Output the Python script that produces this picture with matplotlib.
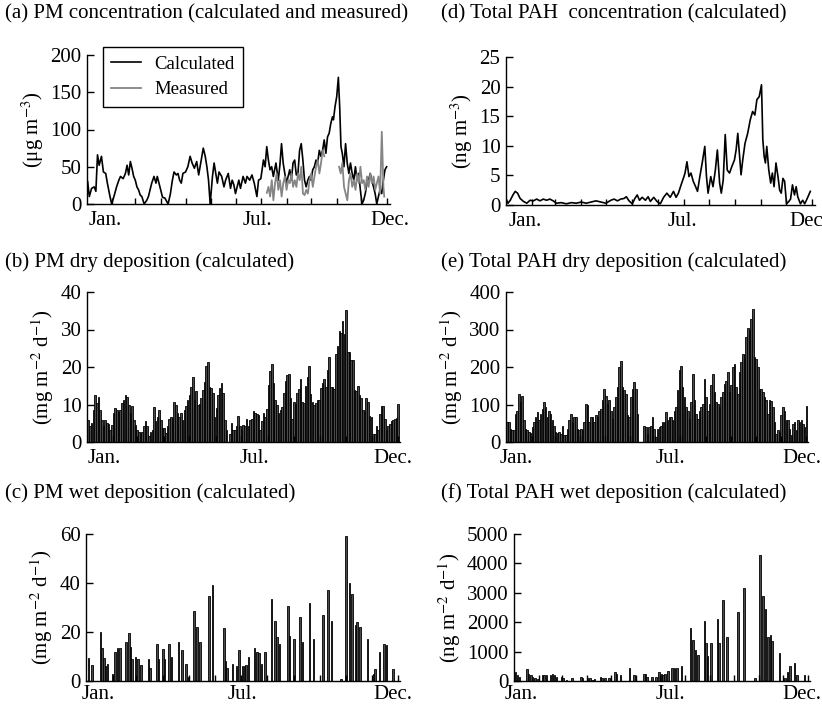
import numpy as np
import matplotlib
matplotlib.use("Agg")
import matplotlib.pyplot as plt

plt.rcParams['font.family'] = ['Liberation Serif', 'DejaVu Serif']
plt.rcParams['mathtext.fontset'] = 'stix'

# ---- (a) PM concentration, calculated and measured (ug m-3) ----
pm_calc_day = [0.8, 2.8, 5.6, 8.8, 10.8, 12.8, 14.8, 17.6, 20, 22.8, 24.8, 28, 30, 32.8, 36, 38.8,
               40.8, 44, 46.8, 48.8, 50.8, 52.8, 54.8, 56.8, 58.8, 60.8, 62.8, 64.8, 66.8, 69.6,
               72.8, 74.8, 76.8, 78.8, 81.6, 84, 85.6, 88.8, 92, 94.8, 98.8, 101.6, 104, 106,
               108.8, 110.8, 112.8, 114.8, 116.8, 120, 122.8, 125.6, 128, 130.8, 133.6, 136,
               138.8, 141.6, 144, 146, 148, 150, 152.8, 154.8, 156.8, 158.8, 160.8, 164, 166.8,
               168.8, 172, 174.8, 176.8, 178.8, 180.8, 184.9, 186.9, 190.1, 192.9, 194.9, 198.1,
               200.9, 203.7, 206.9, 208.9, 211.7, 214.9, 216.9, 218.9, 220.9, 222.9, 224.9,
               226.9, 230.1, 232.9, 234.9, 236.9, 238.9, 240.9, 242.9, 244.9, 246.9, 248.9,
               250.9, 252.9, 254.9, 256.9, 258.9, 260.9, 262.9, 264.9, 266.9, 268.9, 270.9,
               272.9, 274.9, 276.9, 278.9, 280.9, 282.9, 284.9, 286.9, 288.9, 290.9, 292.9,
               294.9, 296.9, 298.9, 300.1, 302.1, 304.1, 306.1, 307.7, 309.3, 310.9, 312.9,
               314.9, 316.9, 318.9, 320.9, 322.9, 324.9, 326.9, 328.9, 330.9, 332.9, 334.9,
               336.9, 338.9, 340.9, 342.9, 344.9, 346.9, 348.9, 350.9, 352.9, 354.9, 356.9,
               358.9, 360.9, 362.9, 364.9]
pm_calc = [30, 10, 21, 23, 17, 66, 52, 64, 43, 41, 28, 10, 0, 10, 23, 32,
           37, 34, 41, 52, 39, 57, 48, 37, 32, 23, 19, 12, 10, 0,
           5, 10, 19, 28, 37, 28, 37, 23, 9, 8, 0, 14, 32, 43,
           39, 41, 32, 28, 41, 43, 50, 64, 55, 48, 57, 39,
           57, 75, 64, 50, 32, 0, 37, 55, 41, 28, 43, 37, 23,
           32, 41, 21, 32, 26, 14, 32, 21, 37, 28, 37, 32,
           39, 28, 10, 32, 34, 59, 50, 77, 59, 46, 50,
           37, 55, 32, 52, 81, 55, 41, 28, 37, 46, 32,
           55, 59, 39, 41, 72, 81, 59, 32, 23, 32, 37,
           32, 46, 50, 59, 55, 72, 64, 72, 86, 68, 90,
           95, 108, 117, 113, 131, 144, 170, 131, 77, 68, 50,
           81, 55, 41, 55, 41, 32, 50, 32, 41, 19, 0,
           5, 14, 28, 32, 41, 32, 23, 14, 0, 10, 19,
           14, 32, 46, 50]

pm_meas_day = [219, 221, 223, 225, 227, 229, 231, 233, 235, 237, 239, 241, 243, 245, 247, 249,
               251, 253, 255, 257, 259, 261, 263, 265, 267, 269, 271, 273, 275, 277, 279, 281,
               283, 285, 287, 289, 291, 307, 309, 311, 313, 315, 317, 319, 321, 323, 325, 327,
               329, 331, 333, 335, 337, 339, 341, 343, 345, 347, 349, 351, 353, 355, 357, 359,
               361, 362]
pm_meas = [15, 23, 10, 32, 5, 28, 41, 19, 32, 10, 28, 37, 19, 32, 28, 41,
           23, 32, 23, 41, 32, 50, 14, 12, 19, 14, 32, 41, 23, 37, 50, 59,
           41, 55, 72, 64, np.nan, 50, 41, 55, 23, 14, 5, 32, 41, 23, 32, 19,
           41, 28, 50, 28, 32, 19, 37, 23, 41, 28, 37, 19, 28, 37, 14, 97,
           23, 10]

# ---- (d) total PAH concentration (ng m-3) ----
pah_conc_day = [0, 2.4, 5.1, 8.3, 11, 13.8, 16.9, 20.9, 24.8, 28.7, 32.7, 36.6, 40.6, 44.5,
                48.4, 52.4, 56.3, 60.2, 66.1, 72, 78, 83.9, 89.8, 95.7, 101.6, 107.5, 113.4,
                119.3, 125.2, 129.1, 133.1, 137, 140.9, 143.7, 146.9, 150.8, 153.9, 156.7,
                159.4, 162.6, 166.5, 169.7, 172.4, 176.4, 180.3, 184.3, 188.2, 192.1, 196.1,
                200, 203.1, 205.9, 209.1, 211.8, 213.8, 216.1, 218.5, 220.9, 223.6, 226.4,
                228.7, 231.5, 234.3, 237.4, 239.4, 241.3, 244.5, 247.2, 250, 252.4, 255.1,
                257.1, 259.4, 261.8, 264.2, 266.9, 269.7, 272.8, 274.8, 276.8, 278.7, 280.7,
                282.7, 285.4, 288.6, 291.7, 294.5, 297.2, 299.6, 302.4, 305.1, 306.7, 308.3,
                309.8, 311.4, 313.8, 316.1, 318.1, 320.1, 322.4, 324.8, 326.8, 328.7, 330.7,
                332.7, 335, 337.8, 339.8, 342.1, 344.5, 346.5, 348.4, 351.6, 354.3, 356.7,
                359.4, 363.4]
pah_conc = [1.1, 0.3, 0.8, 1.7, 2.3, 2.0, 1.1, 0.6, 0.3, 0.8, 0.7, 1.0, 0.7, 1.0,
            0.8, 1.0, 0.7, 0.3, 0.4, 0.2, 0.4, 0.3, 0.5, 0.3, 0.5, 0.7, 0.5,
            0.3, 0.8, 1.0, 0.7, 1.0, 1.1, 1.4, 0.7, 0.2, 1.1, 1.7,
            0.8, 1.3, 0.8, 1.4, 0.6, 1.3, 0.6, 0.2, 1.3, 2.0, 1.3,
            2.3, 1.3, 2.0, 3.4, 4.5, 5.4, 7.3, 4.8, 5.4, 4.0, 3.1,
            2.3, 4.8, 7.1, 9.9, 4.8, 2.0, 4.8, 3.1, 5.9, 9.3, 3.7,
            2.0, 4.2, 11.9, 5.9, 5.4, 6.5, 7.6, 9.3, 12.1, 8.7, 5.1,
            7.6, 10.4, 12.1, 14.4, 15.8, 15.2, 17.8, 18.3, 20.3, 11.0, 8.2,
            7.1, 9.9, 5.9, 3.7, 5.4, 3.1, 7.1, 4.8, 2.5, 2.0, 4.5,
            4.0, 0.2, 0.6, 1.0, 3.4, 1.7, 3.1, 1.4, 0.2, 0.8, 0.2,
            1.0, 2.3]

# ---- (b) PM dry deposition (mg m-2 d-1), roughly every 2 days ----
pm_dry = [5.8, 4.2, 5.0, 8.6, 12.6, 10.4, 12.1, 8.6, 5.9, 4.2, 5.9, 5.0, 4.9, 3.3, 4.6,
          7.7, 9.0, 8.6, 8.1, 8.6, 10.4, 11.2, 12.6, 12.1, 9.9, 7.7, 9.5, 5.9, 4.6, 3.3,
          2.8, 2.4, 2.8, 4.2, 5.5, 4.2, 1.5, 2.8, 3.3, 9.3, 5.5, 6.8, 8.6, 5.9, 3.7,
          3.7, 2.4, 4.2, 6.1, 6.8, 6.4, 10.8, 9.9, 7.7, 6.8, 7.7, 5.9, 8.6, 9.5, 11.2,
          12.6, 14.8, 17.4, 11.2, 13.5, 9.9, 10.2, 11.7, 13.9, 16.1, 20.3, 21.4, 14.8, 14.3, 13.0,
          6.8, 9.0, 12.6, 14.3, 15.8, 13.0, 5.9, 3.3, 0, 2.2, 5.0, 3.1,
          3.3, 4.2, 7.0, 4.2, 3.3, 4.6, 4.4, 6.1, 4.2, 5.9, 6.1, 8.4, 7.7, 7.5, 7.3,
          3.3, 5.5, 7.7, 6.8, 8.8, 15.2, 19.0, 20.8, 15.7, 11.2, 9.9, 7.7, 8.6, 9.3, 13.0,
          16.4, 17.9, 18.1, 11.7, 6.1, 10.8, 10.2, 13.0, 14.2, 16.7, 10.8, 10.5, 15.0, 17.4, 20.3,
          12.7, 10.8, 9.9, 10.4, 11.2, 11.2, 14.3, 15.8, 16.7, 14.6, 19.2, 22.6, 14.6, 14.8, 14.1,
          23.5, 25.7, 29.6, 29.1, 32.2, 28.9, 35.3, 24.1, 24.1, 21.9, 21.9, 13.9, 13.7, 15.0, 12.6,
          11.7, 8.6, 8.4, 11.7, 10.8, 7.0, 6.6, 2.1, 2.2, 4.2, 3.3, 7.5, 9.6, 9.6, 6.1,
          3.3, 4.2, 4.9, 5.5, 5.9, 6.1, 6.4, 10.1]

# ---- (e) total PAH dry deposition, roughly every 2 days ----
pah_dry = [53, 53, 36, 33, 33, 76, 84, 127, 107, 124, 58, 36, 31, 27, 24, 40, 53, 67, 80, 60,
           76, 87, 107, 93, 67, 83, 76, 58, 44, 27, 24, 27, 22, 44, 18, 18, 34, 58, 76, 53,
           67, 67, 36, 31, 36, 31, 53, 102, 100, 53, 67, 67, 53, 71, 67, 84, 89, 111, 142, 124,
           102, 111, 84, 62, 93, 120, 147, 200, 216, 147, 138, 129, 71, 67, 120, 142, 160, 142, 76, 0,
           0, 0, 44, 40, 22, 40, 44, 67, 36, 13, 36, 40, 44, 53, 53, 80, 58, 67, 68, 58,
           84, 93, 138, 191, 202, 147, 120, 93, 84, 62, 107, 182, 111, 76, 62, 84, 93, 102, 169, 120,
           84, 102, 151, 182, 133, 107, 102, 93, 120, 133, 155, 164, 187, 133, 151, 200, 209, 147, 129, 187,
           213, 236, 231, 280, 305, 298, 329, 356, 227, 222, 200, 142, 142, 133, 120, 111, 76, 111, 109, 93,
           53, 22, 33, 27, 71, 93, 84, 58, 58, 36, 18, 49, 53, 31, 58, 53, 58, 49, 40, 95]

# ---- (c) PM wet deposition (mg m-2 d-1), rain days only ----
pm_wet_day = [3, 7, 17, 19, 21, 23, 25, 31, 34, 37, 40, 47, 50, 52, 54, 58, 61, 64, 73, 75,
              83, 85, 90, 92, 97, 100, 108, 112, 117, 120, 126, 130, 133, 144, 148, 161, 163,
              165, 171, 176, 179, 183, 185, 187, 190, 197, 200, 202, 205, 209, 217, 221, 223,
              226, 236, 238, 243, 250, 253, 261, 266, 277, 283, 287, 298, 304, 308, 311, 315,
              317, 320, 329, 336, 338, 343, 348, 351, 359]
pm_wet = [9.5, 6.5, 20, 13.5, 9.5, 6, 7, 3, 12, 13.5, 13.5, 16, 19.5, 14, 9, 10, 9, 6.5, 9, 5.5,
          15, 9, 13, 9, 15, 10, 16, 12.5, 7, 1.5, 28.5, 22, 16, 34.5, 39, 21.5, 8,
          5.5, 7, 6, 12.5, 6, 6, 6.5, 10, 13.5, 12, 11.5, 7, 12, 33.5, 24.5, 18,
          15, 30.5, 18.5, 17, 26, 16, 32, 17, 27, 37, 24.5, 1, 59, 40, 35.5, 23,
          24, 22, 17, 3, 5, 12, 15, 14.5, 5]

# ---- (f) total PAH wet deposition (ng m-2 d-1) ----
pah_wet_day = [2, 4, 7, 16, 18, 21, 23, 26, 30, 35, 37, 40, 45, 48, 50, 53, 59, 61, 65, 72,
               83, 85, 91, 94, 98, 100, 107, 109, 113, 118, 125, 127, 132, 143, 149, 161, 163,
               165, 171, 176, 180, 183, 185, 187, 191, 196, 199, 202, 208, 219, 222, 225, 228,
               236, 238, 240, 244, 252, 254, 259, 264, 278, 285, 299, 305, 309, 312, 315, 318,
               320, 329, 336, 339, 342, 348, 351, 360]
pah_wet = [300, 200, 150, 400, 250, 200, 120, 100, 60, 200, 200, 200, 200, 250, 200, 120, 150, 100, 50, 100,
           150, 100, 100, 100, 50, 80, 150, 100, 100, 100, 300, 250, 200, 450, 200, 250, 250,
           150, 150, 150, 300, 250, 200, 250, 350, 450, 450, 450, 500, 1800, 1400, 1050, 900,
           2050, 1300, 850, 1300, 2100, 1300, 2750, 1500, 2350, 3150, 100, 4300, 2900, 2450, 1500, 1550,
           1350, 950, 100, 300, 500, 600, 200, 200]

month_ends = [31, 59, 90, 120, 151, 181, 212, 243, 273, 304, 334, 365]
month_names = ["Jan.", "Jul.", "Dec."]

W, H = 822, 708
fig = plt.figure(figsize=(W / 100, H / 100), dpi=100)


def make_ax(left, right, top, bottom):
    return fig.add_axes([left / W, 1 - bottom / H, (right - left) / W, (bottom - top) / H])


def style(ax, ymax, yticks, ylabel, label_days, xmax=369, xpad=5):
    ax.set_xlim(0, xmax)
    ax.set_ylim(0, ymax)
    ax.spines['top'].set_visible(False)
    ax.spines['right'].set_visible(False)
    for s in ('left', 'bottom'):
        ax.spines[s].set_linewidth(1.0)
    ax.set_yticks(yticks)
    ax.tick_params(axis='y', direction='in', length=5, width=1, labelsize=15, pad=4)
    ax.set_xticks(label_days)
    ax.set_xticklabels(month_names)
    ax.tick_params(axis='x', which='major', length=0, labelsize=15, pad=xpad)
    ax.set_xticks(month_ends, minor=True)
    ax.tick_params(axis='x', which='minor', direction='in', length=4, width=1)
    ax.set_ylabel(ylabel, fontsize=15, labelpad=3)


def title(x, y, s):
    fig.text(x / W, 1 - y / H, s, fontsize=15, va='center', ha='left')


bar_face = '#4a4a4a'

# (a)
ax = make_ax(87, 390, 55, 204)
ax.plot(pm_calc_day, pm_calc, color='black', lw=1.2, label='Calculated')
ax.plot(pm_meas_day, pm_meas, color='#858585', lw=1.3, label='Measured')
style(ax, 200, [0, 50, 100, 150, 200], '(μg m$^{-3}$)', [22, 207, 369])
leg = ax.legend(loc='upper left', bbox_to_anchor=(0.053, 1.054), borderaxespad=0,
                fontsize=13.5, frameon=True, fancybox=False, framealpha=1,
                edgecolor='black', handlelength=1.6, handletextpad=0.7,
                labelspacing=0.45, borderpad=0.45)
leg.get_frame().set_linewidth(1.0)
title(5, 14, '(a) PM concentration (calculated and measured)')

# (d)
ax = make_ax(506, 815, 57, 205)
ax.plot(pah_conc_day, pah_conc, color='black', lw=1.2)
style(ax, 25, [0, 5, 10, 15, 20, 25], '(ng m$^{-3}$)', [23, 211, 362])
title(441, 14, '(d) Total PAH  concentration (calculated)')

# (b)
ax = make_ax(87, 400, 292, 442)
xb = np.linspace(1.5, 365, len(pm_dry))
ax.bar(xb, pm_dry, width=(xb[1] - xb[0]) * 0.95, color=bar_face, edgecolor='black', linewidth=0.6)
style(ax, 40, [0, 10, 20, 30, 40], '(mg m$^{-2}$ d$^{-1}$)', [20, 196, 359], xmax=367)
title(5, 262, '(b) PM dry deposition (calculated)')

# (e)
ax = make_ax(506, 808, 292, 442)
xe = np.linspace(1.5, 365, len(pah_dry))
ax.bar(xe, pah_dry, width=(xe[1] - xe[0]) * 0.95, color=bar_face, edgecolor='black', linewidth=0.6)
style(ax, 400, [0, 100, 200, 300, 400], '(mg m$^{-2}$ d$^{-1}$)', [12, 200, 359], xmax=367)
title(441, 262, '(e) Total PAH dry deposition (calculated)')

# (c)
ax = make_ax(86, 400, 534, 681)
ax.bar(pm_wet_day, pm_wet, width=1.8, color=bar_face, edgecolor='black', linewidth=0.6)
style(ax, 60, [0, 20, 40, 60], '(mg m$^{-2}$ d$^{-1}$)', [14, 183, 359], xmax=367, xpad=3)
title(5, 493, '(c) PM wet deposition (calculated)')

# (f)
ax = make_ax(514, 810, 534, 681)
ax.bar(pah_wet_day, pah_wet, width=1.8, color=bar_face, edgecolor='black', linewidth=0.6)
style(ax, 5000, [0, 1000, 2000, 3000, 4000, 5000], '(ng m$^{-2}$ d$^{-1}$)', [9, 194, 357],
      xmax=367, xpad=3)
title(441, 493, '(f) Total PAH wet deposition (calculated)')

fig.savefig('out.png', dpi=100)
